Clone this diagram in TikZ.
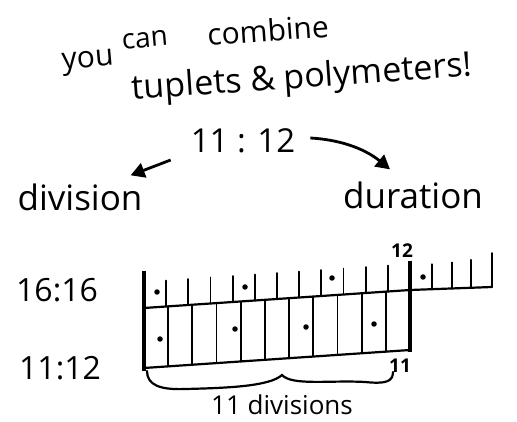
\documentclass[tikz,border=0pt]{standalone}
\usepackage{fontspec}
\setmainfont{Open Sans}
\usetikzlibrary{arrows.meta}
\begin{document}
\begin{tikzpicture}[x=1pt,y=-1pt,
  hand/.style={font=\fontsize{#1}{#1}\selectfont, inner sep=0pt},
  lab/.style={font=\fontsize{19}{19}\selectfont\bfseries, inner sep=0pt},
  arr/.style={line width=2.8pt, -{Triangle[length=14pt,width=15pt]}},
  thin/.style={line width=1.8pt, line cap=round},
  base/.style={line width=2.2pt, line cap=round},
  bar/.style={line width=4.6pt},
  beat/.style={fill=black, circle, inner sep=0pt, minimum size=5.5pt}]
\useasboundingbox (0,0) rectangle (517,422);
\fill[white] (0,0) rectangle (517,422);
% title
\node[hand=30, rotate=5] (you) at (88,63) {you};
\node[hand=28, rotate=5] (can) at (145,40) {can};
\node[hand=30, rotate=4] (comb) at (268,30) {combine};
\node[hand=34, rotate=4] (tup) at (302,79) {tuplets \& polymeters!};
% ratio and labels
\node[hand=33] (ratio) at (243,141) {11 : 12};
\node[hand=35] (div) at (80,197) {division};
\node[hand=35] (dur) at (413,195) {duration};
\draw[arr] ([shift={(-20,19)}]ratio.west) -- ([shift={(-12,-8)}]div.north east);
\draw[arr] ([shift={(15,-3)}]ratio.east) .. controls +(35,2) and +(-22,-18) .. ([shift={(-23,-12)}]dur.north);
% meters
\node[hand=32] (m16) at (57,290) {16:16};
\node[hand=32] (m11) at (60,368) {11:12};
% grid
\coordinate (ul) at (144,308);
\coordinate (ur) at (410,290);
\coordinate (ue) at (492,287);
\coordinate (ll) at (144,368);
\coordinate (lr) at (410,350);
\draw[base] (ul) -- (ur) -- (ue);
\draw[base] (ll) -- (lr);
\foreach \i in {1,...,11}{
  \pgfmathsetmacro{\xx}{144+22.17*\i}
  \pgfmathsetmacro{\yy}{308-(\xx-144)*18/266}
  \draw[thin] (\xx,\yy) -- (\xx,\yy-26);
}
\foreach \xx/\h in {432/25,452/26,471/28,492/34}{
  \pgfmathsetmacro{\yy}{290-(\xx-410)*3/82}
  \draw[thin] (\xx,\yy) -- (\xx,\yy-\h);
}
\foreach \j in {1,...,10}{
  \pgfmathsetmacro{\xx}{144+24.18*\j}
  \pgfmathsetmacro{\yy}{308-(\xx-144)*18/266}
  \draw[thin] (\xx,\yy) -- (\xx,\yy+60);
}
\draw[bar] (144,271) -- (144,371);
\draw[bar] (410,261) -- (410,352);
% beats
\node[beat] (b1) at (157,292) {};
\node[beat] (b2) at (245,287) {};
\node[beat] (b3) at (332,278) {};
\node[beat] (b4) at (423,277) {};
\node[beat] (c1) at (160,339) {};
\node[beat] (c2) at (235,329) {};
\node[beat] (c3) at (306,327) {};
\node[beat] (c4) at (374,324) {};
\node[lab] (l12) at (402,251) {12};
\node[lab] (l11) at (400,366) {11};
% brace
\coordinate (bl) at (147,371);
\coordinate (bm) at (282,375);
\coordinate (br) at (393,372);
\draw[base] (bl) .. controls (147,385) and (160,390) .. (185,389)
  .. controls (230,388) and (270,386) .. (bm)
  .. controls (292,386) and (330,380) .. (365,382)
  .. controls (385,384) and (393,382) .. (br);
\node[hand=26] (ndiv) at (282,405) {11 divisions};
\end{tikzpicture}
\end{document}
